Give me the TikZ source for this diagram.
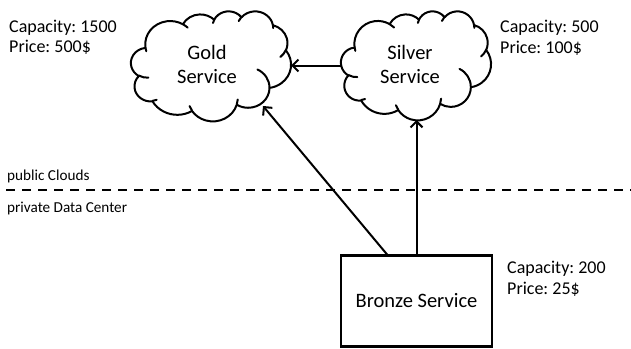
\documentclass[tikz,border=0pt]{standalone}
\usepackage{fontspec}
\setmainfont{Carlito}
\usetikzlibrary{arrows.meta}
\frenchspacing
% arc given as in DrawingML (geometric angles, degrees): rx ry start sweep
\newcommand\pptarc[4]{%
  \pgfextra{%
    \pgfmathsetmacro\pptts{atan2((#1)*sin(#3),(#2)*cos(#3))}%
    \pgfmathsetmacro\pptte{atan2((#1)*sin((#3)+(#4)),(#2)*cos((#3)+(#4)))}%
    \pgfmathsetmacro\pptd{mod(\pptte-\pptts-(#4)+1260,360)-180+(#4)}%
  }
  arc[start angle=\pptts, delta angle=\pptd, x radius=#1, y radius=#2]
}
\newcommand\cloudoutline{%
  (3.9,14.37)
  \pptarc{6.753}{9.190}{-190.4875}{123.7805}
  \pptarc{5.333}{7.267}{-144.1024}{89.9452}
  \pptarc{4.365}{5.945}{-145.8079}{99.7230}
  \pptarc{4.857}{6.595}{-130.9861}{117.2417}
  \pptarc{5.333}{7.273}{-78.7089}{109.0269}
  \pptarc{6.775}{9.220}{-46.2673}{130.2690}
  \pptarc{5.785}{7.867}{0.6250}{114.0333}
  \pptarc{6.752}{9.215}{22.4516}{115.1726}
  \pptarc{7.720}{10.543}{66.2426}{75.7110}
  \pptarc{4.360}{5.918}{-274.9421}{146.7356}
  \pptarc{4.345}{5.945}{-246.8285}{152.5189}
  -- cycle}
\newcommand\cloudinner{%
  (4.693,26.177) \pptarc{4.345}{5.945}{86.742}{26.4295}
  (6.928,34.899) \pptarc{4.360}{5.918}{73.6105}{11.4475}
  (16.478,39.090) \pptarc{6.752}{9.215}{137.6242}{14.0811}
  (28.827,34.751) \pptarc{6.752}{9.215}{6.4533}{15.9984}
  (34.129,22.954) \pptarc{5.785}{7.867}{-70.2924}{70.9174}
  (41.798,15.354) \pptarc{5.333}{7.273}{30.3180}{27.7515}
  (38.324,5.426) \pptarc{4.857}{6.595}{-13.7443}{14.8589}
  (29.078,3.952) \pptarc{4.857}{6.595}{-149.1815}{18.1954}
  (22.141,4.720) \pptarc{4.365}{5.945}{-163.4943}{17.6864}
  (14.000,5.192) \pptarc{6.753}{9.190}{-66.7070}{12.3194}
  (4.127,15.789) \pptarc{6.753}{9.190}{157.6544}{11.8582}}
\tikzset{
  cloudline/.style={draw=black, line width=2pt, line join=round, line cap=round},
  cloudarea/.style={inner sep=0pt, outer sep=0pt},
  svctext/.style={align=center, inner sep=0pt, font=\fontsize{20.5}{24}\selectfont},
  infotext/.style={anchor=base west, inner sep=0pt, font=\fontsize{18}{20.5}\selectfont},
  zonetext/.style={anchor=base west, inner sep=0pt, font=\fontsize{15.2}{18}\selectfont},
  arr/.style={line width=2pt, -{Straight Barb[length=6pt,width=12pt,line width=2pt]}},
  bronzebox/.style={draw=black, line width=2.2pt, minimum width=151pt, minimum height=91pt, inner sep=0pt, font=\fontsize{20.5}{24}\selectfont}
}
\begin{document}
\begin{tikzpicture}[x=1pt,y=1pt]
\useasboundingbox (0,0) rectangle (631,-348);
% gold cloud
\begin{scope}[shift={(131pt,-11pt)}, x=3.7037pt, y=-2.5463pt]
  \draw[cloudline] \cloudoutline;
  \draw[cloudline] \cloudinner;
\end{scope}
\node[cloudarea, minimum width=160pt, minimum height=110pt] (gold) at (211,-66) {};
\node[svctext] (goldtxt) at (207,-64) {Gold\\Service};
% silver cloud
\begin{scope}[shift={(341pt,-11pt)}, x=3.4722pt, y=-2.5231pt]
  \draw[cloudline] \cloudoutline;
  \draw[cloudline] \cloudinner;
\end{scope}
\node[cloudarea, minimum width=150pt, minimum height=109pt] (silver) at (416,-65.5) {};
\node[svctext] (silvertxt) at (410,-64) {Silver\\Service};
% bronze
\node[bronzebox] (bronze) at (416.5,-301) {Bronze Service};
% info labels
\node[infotext] (gcap) at (9,-32) {Capacity: 1500};
\node[infotext] (gprice) at (9,-52) {Price: 500\$};
\node[infotext] (scap) at (500,-32) {Capacity: 500};
\node[infotext] (sprice) at (500,-53) {Price: 100\$};
\node[infotext] (bcap) at (507,-273) {Capacity: 200};
\node[infotext] (bprice) at (507,-294) {Price: 25\$};
% zone labels
\node[zonetext] (pub) at (7,-180) {public Clouds};
\node[zonetext] (priv) at (7,-212) {private Data Center};
% divider
\coordinate (dl) at (6,-190);
\coordinate (dr) at (631,-190);
\draw[line width=2.5pt, dash pattern=on 9pt off 7pt] (dl) -- (dr);
% arrows
\coordinate (gtip) at (263,-106);
\draw[arr] ([xshift=-29.5pt]bronze.north) -- (gtip);
\draw[arr] (bronze.north) -- (bronze.north |- silver.south);
\draw[arr] (silver.west) -- (silver.west -| gold.east);
\end{tikzpicture}
\end{document}
